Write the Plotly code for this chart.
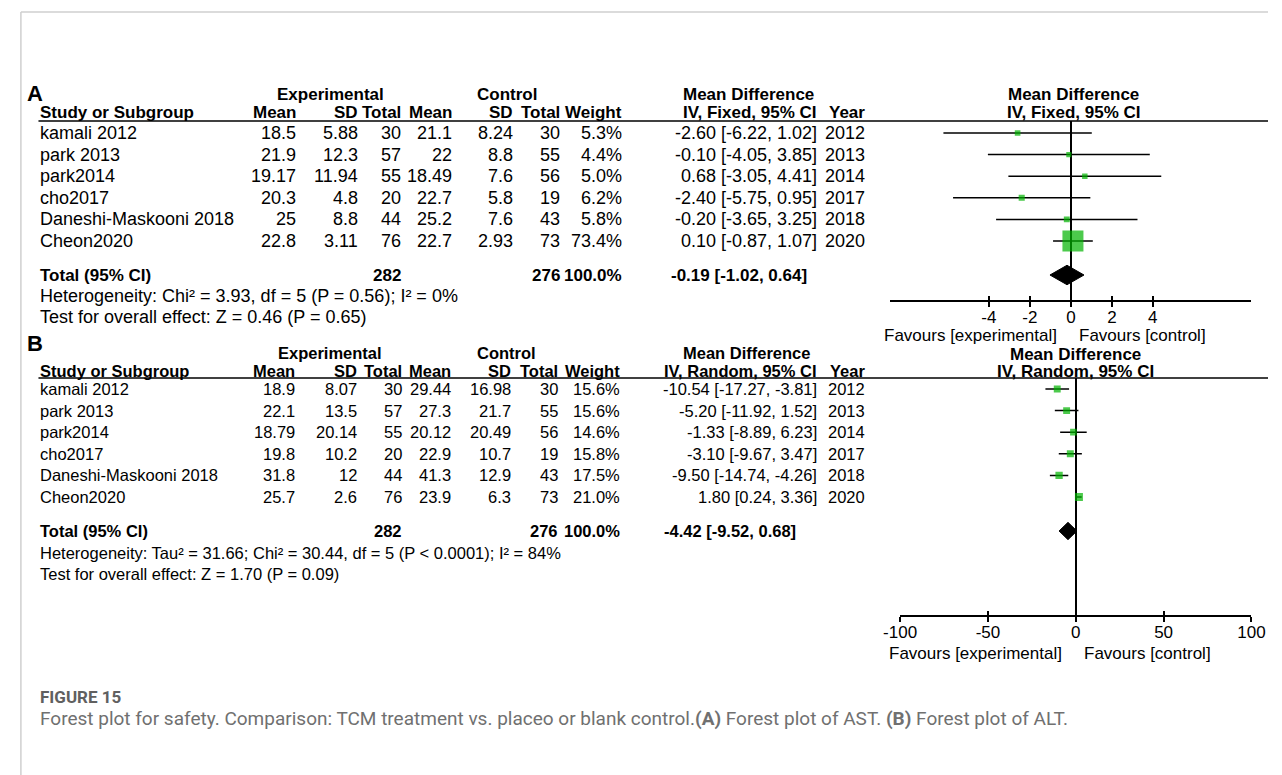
import math
import plotly.graph_objects as go

W, H = 1282, 775
ARIAL = "Liberation Sans, Arial, sans-serif"
CAPTION = "Roboto, Open Sans, sans-serif"
GREEN = "#00b400"

# ---------------- Panel A: AST ----------------
studies = ["kamali 2012", "park 2013", "park2014", "cho2017",
           "Daneshi-Maskooni 2018", "Cheon2020"]
years = [2012, 2013, 2014, 2017, 2018, 2020]

a_exp_mean = [18.5, 21.9, 19.17, 20.3, 25, 22.8]
a_exp_sd = [5.88, 12.3, 11.94, 4.8, 8.8, 3.11]
a_exp_n = [30, 57, 55, 20, 44, 76]
a_ctl_mean = [21.1, 22, 18.49, 22.7, 25.2, 22.7]
a_ctl_sd = [8.24, 8.8, 7.6, 5.8, 7.6, 2.93]
a_ctl_n = [30, 55, 56, 19, 43, 73]
a_weight = [5.3, 4.4, 5.0, 6.2, 5.8, 73.4]
a_md = [-2.60, -0.10, 0.68, -2.40, -0.20, 0.10]
a_lo = [-6.22, -4.05, -3.05, -5.75, -3.65, -0.87]
a_hi = [1.02, 3.85, 4.41, 0.95, 3.25, 1.07]
a_total = {"exp_n": 282, "ctl_n": 276, "weight": 100.0,
           "md": -0.19, "lo": -1.02, "hi": 0.64}
a_stats = ["Heterogeneity: Chi² = 3.93, df = 5 (P = 0.56); I² = 0%",
           "Test for overall effect: Z = 0.46 (P = 0.65)"]
a_ticks = [-4, -2, 0, 2, 4]

# ---------------- Panel B: ALT ----------------
b_exp_mean = [18.9, 22.1, 18.79, 19.8, 31.8, 25.7]
b_exp_sd = [8.07, 13.5, 20.14, 10.2, 12, 2.6]
b_exp_n = [30, 57, 55, 20, 44, 76]
b_ctl_mean = [29.44, 27.3, 20.12, 22.9, 41.3, 23.9]
b_ctl_sd = [16.98, 21.7, 20.49, 10.7, 12.9, 6.3]
b_ctl_n = [30, 55, 56, 19, 43, 73]
b_weight = [15.6, 15.6, 14.6, 15.8, 17.5, 21.0]
b_md = [-10.54, -5.20, -1.33, -3.10, -9.50, 1.80]
b_lo = [-17.27, -11.92, -8.89, -9.67, -14.74, 0.24]
b_hi = [-3.81, 1.52, 6.23, 3.47, -4.26, 3.36]
b_total = {"exp_n": 282, "ctl_n": 276, "weight": 100.0,
           "md": -4.42, "lo": -9.52, "hi": 0.68}
b_stats = ["Heterogeneity: Tau² = 31.66; Chi² = 30.44, df = 5 (P < 0.0001); I² = 84%",
           "Test for overall effect: Z = 1.70 (P = 0.09)"]
b_ticks = [-100, -50, 0, 50, 100]

fig = go.Figure()


def txt(x, y, s, anchor="left", size=18, bold=False, family=ARIAL, color="black"):
    fig.add_annotation(x=x / W, y=1 - y / H, xref="paper", yref="paper",
                       text=f"<b>{s}</b>" if bold else s, showarrow=False,
                       xanchor=anchor, yanchor="middle",
                       font=dict(size=size, family=family, color=color))


def hline(x0, x1, y, color="black", width=1.5):
    fig.add_shape(type="line", xref="paper", yref="paper",
                  x0=x0 / W, x1=x1 / W, y0=1 - y / H, y1=1 - y / H,
                  line=dict(color=color, width=width))


def fmt_ci(m, lo, hi):
    return f"{m:.2f} [{lo:.2f}, {hi:.2f}]"


def panel(p):
    """Draws one table + forest plot block described by dict p."""
    fs, bs = p["size"], p["bold_size"]
    r0, dy = p["row0"], p["dy"]
    cols = p["cols"]
    # panel letter and column group headings
    txt(8, p["letter_y"], p["letter"], size=22, bold=True)
    gy = p["group_y"]
    txt(p["exp_center"], gy, "Experimental", "center", bs, True)
    txt(p["ctl_center"], gy, "Control", "center", bs, True)
    txt(p["md_center"], gy, "Mean Difference", "center", bs, True)
    txt(p["forest_center"], p["forest_group_y"], "Mean Difference", "center", 17, True)
    hy = p["head_y"]
    txt(22, hy, "Study or Subgroup", "left", bs, True)
    heads = ["Mean", "SD", "Total", "Mean", "SD", "Total", "Weight",
             p["method"], "Year"]
    for c, h in zip(cols, heads):
        txt(c, hy, h, "right", bs, True)
    txt(p["forest_center"], hy, p["method"], "center", 17, True)
    hline(22, 1282, p["line_y"])

    d = p["data"]
    for i, name in enumerate(studies):
        y = r0 + i * dy
        vals = [str(d["em"][i]), str(d["es"][i]), str(d["en"][i]),
                str(d["cm"][i]), str(d["cs"][i]), str(d["cn"][i]),
                f"{d['w'][i]:.1f}%", fmt_ci(d["md"][i], d["lo"][i], d["hi"][i]),
                str(years[i])]
        txt(22, y, name, "left", fs)
        for c, v in zip(cols, vals):
            txt(c, y, v, "right", fs)

    t = d["total"]
    ty = p["total_y"]
    txt(22, ty, "Total (95% CI)", "left", bs, True)
    txt(cols[2], ty, str(t["exp_n"]), "right", bs, True)
    txt(cols[5], ty, str(t["ctl_n"]), "right", bs, True)
    txt(cols[6], ty, f"{t['weight']:.1f}%", "right", bs, True)
    txt(p["total_ci_right"], ty, fmt_ci(t["md"], t["lo"], t["hi"]), "right", bs, True)
    for k, s in enumerate(d["stats"]):
        txt(22, p["stats_y"][k], s, "left", fs)

    # forest plot traces (row units on y)
    xa, ya = p["xaxis"], p["yaxis"]
    rows = list(range(len(studies)))
    cx, cy = [], []
    for i in rows:
        cx += [d["lo"][i], d["hi"][i], None]
        cy += [i, i, None]
    fig.add_trace(go.Scatter(x=cx, y=cy, mode="lines", xaxis=xa, yaxis=ya,
                             line=dict(color="black", width=1.5),
                             hoverinfo="skip"))
    fig.add_trace(go.Scatter(x=d["md"], y=rows, mode="markers", xaxis=xa, yaxis=ya,
                             marker=dict(symbol="square", color=GREEN,
                                         size=[p["sq"] * math.sqrt(w) for w in d["w"]],
                                         line=dict(width=0))))
    trow = (ty - r0) / dy
    h = p["diamond_h"]
    fig.add_trace(go.Scatter(x=[t["lo"], t["md"], t["hi"], t["md"], t["lo"]],
                             y=[trow, trow - h, trow, trow + h, trow],
                             mode="lines", fill="toself", fillcolor="black",
                             xaxis=xa, yaxis=ya, line=dict(color="black", width=1)))
    # Favours labels under the axis
    fy = p["favours_y"]
    txt(p["fav_split"] - 12, fy, "Favours [experimental]", "right", 17)
    txt(p["fav_split"] + 6, fy, "Favours [control]", "left", 17)


panel_a = dict(
    letter="A", letter_y=93, group_y=94, forest_group_y=94, head_y=113, line_y=121,
    row0=133, dy=21.6, total_y=275, stats_y=[296, 317], total_ci_right=812,
    size=18, bold_size=17, method="IV, Fixed, 95% CI",
    cols=[288, 352, 396, 448, 510, 558, 622, 822, 871],
    exp_center=321, ctl_center=502, md_center=750,
    forest_center=1083, xaxis="x", yaxis="y",
    sq=2.45, diamond_h=0.45, favours_y=335, fav_split=1080,
    data=dict(em=a_exp_mean, es=a_exp_sd, en=a_exp_n, cm=a_ctl_mean,
              cs=a_ctl_sd, cn=a_ctl_n, w=a_weight, md=a_md, lo=a_lo,
              hi=a_hi, total=a_total, stats=a_stats),
)
panel_b = dict(
    letter="B", letter_y=343, group_y=353, forest_group_y=355, head_y=371, line_y=378,
    row0=389, dy=21.6, total_y=531, stats_y=[553, 574], total_ci_right=800,
    size=16.5, bold_size=16.5, method="IV, Random, 95% CI",
    cols=[287, 350, 397, 447, 508, 556, 620, 822, 871],
    exp_center=321, ctl_center=502, md_center=748,
    forest_center=1085, xaxis="x2", yaxis="y2",
    sq=1.75, diamond_h=0.4, favours_y=653, fav_split=1085,
    data=dict(em=b_exp_mean, es=b_exp_sd, en=b_exp_n, cm=b_ctl_mean,
              cs=b_ctl_sd, cn=b_ctl_n, w=b_weight, md=b_md, lo=b_lo,
              hi=b_hi, total=b_total, stats=b_stats),
)
panel(panel_a)
panel(panel_b)


def yrange(p, axis_px):
    top = (p["line_y"] - p["row0"]) / p["dy"]
    bottom = (axis_px - p["row0"]) / p["dy"]
    return [bottom, top]


axis_common = dict(showline=True, linecolor="black", linewidth=1.5,
                   ticks="outside", ticklen=5, tickwidth=1.5, tickcolor="black",
                   ticklabelstandoff=-4,
                   showgrid=False, zeroline=True, zerolinecolor="black",
                   zerolinewidth=1.5, tickfont=dict(size=17, family=ARIAL, color="black"),
                   fixedrange=True)
overlay_common = dict(ticks="inside", ticklen=4, tickwidth=1.5, tickcolor="black",
                      showticklabels=False, showline=False, showgrid=False,
                      zeroline=False, fixedrange=True)

A_AXIS_PX, B_AXIS_PX = 300, 615
half_a = (1265 - 895) / 2 / 21.0

fig.update_layout(
    width=W, height=H, margin=dict(l=0, r=0, t=0, b=0),
    paper_bgcolor="white", plot_bgcolor="rgba(0,0,0,0)", showlegend=False,
    xaxis=dict(domain=[895 / W, 1265 / W], range=[-half_a, half_a], anchor="y",
               tickvals=a_ticks, ticktext=[str(v) for v in a_ticks], **axis_common),
    yaxis=dict(domain=[1 - A_AXIS_PX / H, 1 - panel_a["line_y"] / H],
               range=yrange(panel_a, A_AXIS_PX), visible=False, fixedrange=True),
    xaxis3=dict(overlaying="x", matches="x", anchor="y", tickvals=a_ticks, **overlay_common),
    xaxis2=dict(domain=[905 / W, 1265 / W], range=[-100, 100], anchor="y2",
                tickvals=b_ticks, ticktext=[str(v) for v in b_ticks], **axis_common),
    yaxis2=dict(domain=[1 - B_AXIS_PX / H, 1 - panel_b["line_y"] / H],
                range=yrange(panel_b, B_AXIS_PX), visible=False, fixedrange=True),
    xaxis4=dict(overlaying="x2", matches="x2", anchor="y2", tickvals=b_ticks, **overlay_common),
)
# invisible carriers so the overlay tick axes are rendered
fig.add_trace(go.Scatter(x=[0], y=[0], xaxis="x3", yaxis="y", mode="markers",
                         marker=dict(opacity=0), hoverinfo="skip"))
fig.add_trace(go.Scatter(x=[0], y=[0], xaxis="x4", yaxis="y2", mode="markers",
                         marker=dict(opacity=0), hoverinfo="skip"))

# page frame
hline(4, 1282, 12, color="#cfcfcf", width=1.5)
fig.add_shape(type="line", xref="paper", yref="paper", x0=4 / W, x1=4 / W,
              y0=0, y1=1 - 12 / H, line=dict(color="#cfcfcf", width=1.5))

# caption
txt(22, 697, "FIGURE 15", "left", 17, True, CAPTION, "#606060")
txt(22, 718, "Forest plot for safety. Comparison: TCM treatment vs. placeo or blank "
    "control.<b>(A)</b> Forest plot of AST. <b>(B)</b> Forest plot of ALT.",
    "left", 19, False, CAPTION, "#707070")

fig.write_html("out.html")
